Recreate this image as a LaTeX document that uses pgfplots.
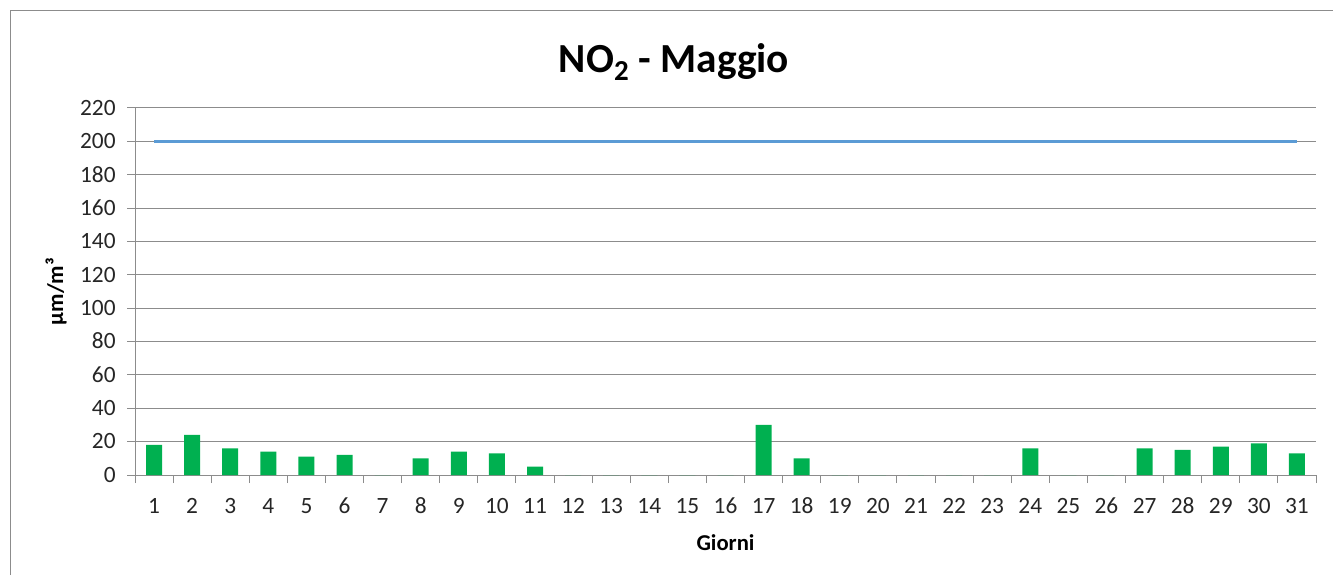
\documentclass[border=0pt]{standalone}
\usepackage{pgfplots}
\pgfplotsset{compat=1.18}
\usepackage{pgfplotstable}
\usepackage{fontspec}
\setmainfont{Carlito}
\definecolor{bargreen}{HTML}{00B050}
\definecolor{lineblue}{HTML}{5B9BD5}
\definecolor{gridgray}{HTML}{8C8C8C}
\definecolor{txt}{HTML}{262626}
\pgfplotstableread{
day val
1 18
2 24
3 16
4 14
5 11
6 12
7 0
8 10
9 14
10 13
11 5
12 0
13 0
14 0
15 0
16 0
17 30
18 10
19 0
20 0
21 0
22 0
23 0
24 16
25 0
26 0
27 16
28 15
29 17
30 19
31 13
}\notwo
\pgfplotstableread{
day lim
1 200
2 200
3 200
4 200
5 200
6 200
7 200
8 200
9 200
10 200
11 200
12 200
13 200
14 200
15 200
16 200
17 200
18 200
19 200
20 200
21 200
22 200
23 200
24 200
25 200
26 200
27 200
28 200
29 200
30 200
31 200
}\limite
\begin{document}
\begin{tikzpicture}
\path[use as bounding box] (0,0) rectangle (999.75pt,431.25pt);
\draw[gridgray, line width=0.75pt] (7.5pt,0) -- (7.5pt,423pt) -- (1000pt,423pt);
\node[anchor=base, font=\fontsize{31}{36}\selectfont\bfseries, text=black, inner sep=0pt] at (505.5pt,376.5pt) {NO\textsubscript{2} - Maggio};
\begin{axis}[
  at={(101.25pt,75pt)}, anchor=south west,
  scale only axis,
  width=885.75pt, height=275.25pt,
  xmin=0.5, xmax=31.5, ymin=0, ymax=220,
  ytick distance=20,
  xtick={1,...,31},
  minor xtick={0.5,1.5,...,31.5},
  axis lines*=left,
  axis line style={gridgray, line width=0.75pt},
  ymajorgrids,
  major grid style={gridgray, line width=0.75pt},
  tick align=outside,
  major tick length=6pt,
  minor tick length=6pt,
  major x tick style={draw=none},
  minor x tick style={gridgray, line width=0.75pt},
  major y tick style={gridgray, line width=0.75pt},
  /pgf/number format/assume math mode=true,
  tick label style={font=\fontsize{17.5}{20}\selectfont, text=txt, text height=11pt, text depth=0pt},
  yticklabel style={xshift=-5pt},
  xticklabel style={yshift=-8.5pt},
  xlabel={Giorni},
  ylabel={µm/m³},
  label style={font=\fontsize{17}{20}\selectfont\bfseries, text=black},
  xlabel style={at={(axis description cs:0.5,0)}, anchor=center, yshift=-50.5pt},
  ylabel style={at={(axis description cs:0,0.5)}, anchor=center, yshift=59.25pt},
  clip=false,
]
\addplot[ybar, bar width=12pt, fill=bargreen, draw=none] table[x=day, y=val] {\notwo};
\addplot[lineblue, line width=2.25pt, no marks] table[x=day, y=lim] {\limite};
\end{axis}
\end{tikzpicture}
\end{document}
